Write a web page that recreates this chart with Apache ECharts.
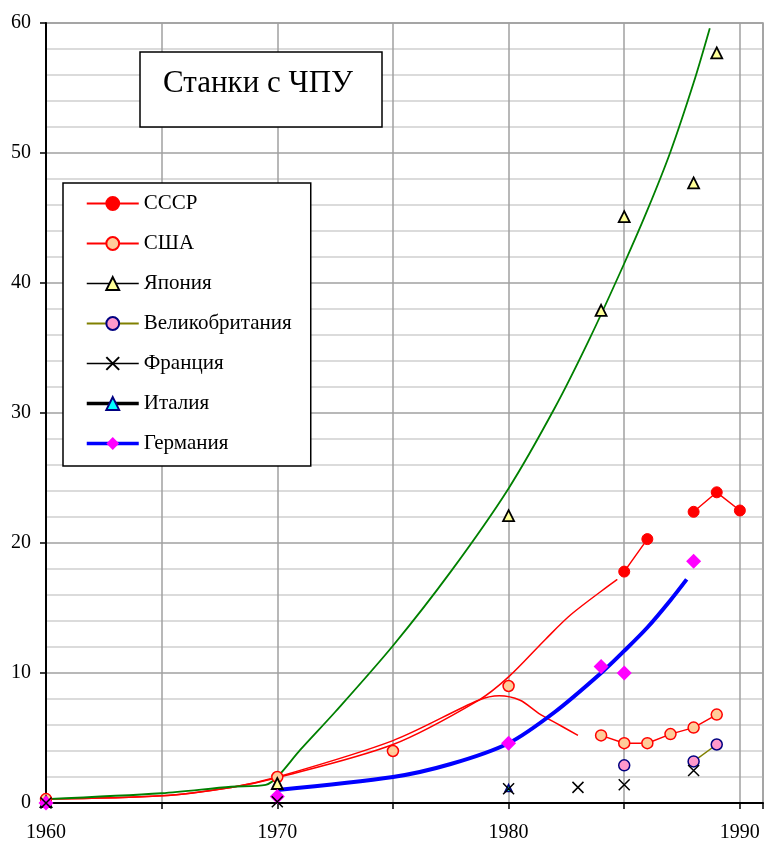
<!DOCTYPE html>
<html><head><meta charset="utf-8">
<script src="https://cdn.jsdelivr.net/npm/echarts@6/dist/echarts.min.js"></script>
<style>html,body{margin:0;padding:0;background:#fff}#c{width:766px;height:843px}</style>
</head><body><div id="c"></div>
<script>
const FONT = "'Liberation Serif','Times New Roman',serif";
const titleText = 'Станки с ЧПУ';
const legendNames = ['СССР','США','Япония','Великобритания','Франция','Италия','Германия'];

// observed points
const ussrX = [1985, 1986, 1987, 1988, 1989, 1990];
const ussrY = [17.8, 20.3, null, 22.4, 23.9, 22.5];
const usaX = [1960, 1965, 1970, 1972, 1975, 1977, 1980, 1982, 1984, 1985, 1986, 1987, 1988, 1989];
const usaY = [0.3, null, 2.0, null, 4.0, null, 9.0, null, 5.2, 4.6, 4.6, 5.3, 5.8, 6.8];
const japanX = [1960, 1970, 1980, 1984, 1985, 1988, 1989];
const japanY = [0.1, 1.5, 22.1, 37.9, 45.1, 47.7, 57.7];
const ukX = [1985, 1986, 1988, 1989];
const ukY = [2.9, null, 3.2, 4.5];
const franceX = [1960, 1970, 1980, 1983, 1985, 1988];
const franceY = [0, 0.1, 1.1, 1.2, 1.4, 2.5];
const italyX = [1980];
const italyY = [1.15];
const germanyX = [1960, 1970, 1980, 1984, 1985, 1988];
const germanyY = [0, 0.5, 4.6, 10.5, 10.0, 18.6];

// trend curves
const ussrTrendX = [1960, 1965, 1968, 1970, 1975, 1978.7, 1980, 1981.6, 1982.7, 1984.7];
const ussrTrendY = [0.3, 0.55, 1.2, 1.95, 4.5, 7.9, 9.7, 12.6, 14.5, 17.2];
const usaTrendX = [1960, 1965, 1968, 1970, 1975, 1978.7, 1979.6, 1980.5, 1981.3, 1982.2, 1983];
const usaTrendY = [0.3, 0.55, 1.2, 2.0, 4.8, 7.9, 8.25, 7.9, 6.9, 6.0, 5.2];
const japanTrendX = [1960, 1965, 1968, 1969.5, 1970, 1971, 1972.5, 1975, 1977.5, 1980, 1982, 1983.5, 1985, 1986, 1987, 1988, 1988.7];
const japanTrendY = [0.3, 0.75, 1.25, 1.4, 2.0, 4.1, 7.0, 12.1, 17.8, 24.2, 30.4, 35.7, 41.5, 45.6, 50.1, 55.4, 59.6];
const germanyTrendX = [1970, 1975, 1977.5, 1980, 1982, 1984, 1985, 1986, 1987, 1987.7];
const germanyTrendY = [1.0, 2.0, 3.0, 4.6, 7.0, 10.0, 11.7, 13.5, 15.6, 17.2];

const zip = (xs, ys) => xs.map((x, i) => [x, ys[i]]);

const X_SYMBOL = 'path://M0,0 L10,10 M10,0 L0,10';

function trend(name, xs, ys, color, width) {
  return { name: name, type: 'line', data: zip(xs, ys), showSymbol: false, symbol: 'none',
    smooth: 0.3, lineStyle: { color: color, width: width }, z: 2, silent: true, legendHoverLink: false };
}

const chart = echarts.init(document.getElementById('c'), null, { renderer: 'canvas' });
chart.setOption({
  animation: false,
  backgroundColor: '#fff',
  grid: { left: 46, right: 3, top: 23, bottom: 40, show: true, borderColor: '#999', borderWidth: 1.5 },
  xAxis: {
    type: 'value', min: 1960, max: 1991, interval: 5,
    axisLine: { show: true, onZero: false, lineStyle: { color: '#000', width: 2 } },
    axisTick: { show: true, length: 6, lineStyle: { color: '#000', width: 1.5 } },
    axisLabel: { color: '#000', fontFamily: FONT, fontSize: 20, margin: 20,
      formatter: v => (v % 10 === 0 ? String(v) : '') },
    splitLine: { show: true, lineStyle: { color: '#a0a0a0', width: 1.5 } }
  },
  yAxis: {
    type: 'value', min: 0, max: 60, interval: 10,
    axisLine: { show: true, lineStyle: { color: '#000', width: 2 } },
    axisTick: { show: true, length: 6, lineStyle: { color: '#000', width: 1.5 } },
    axisLabel: { color: '#000', fontFamily: FONT, fontSize: 20, margin: 15 },
    splitLine: { show: true, lineStyle: { color: '#a0a0a0', width: 1.5 } },
    minorTick: { show: false, splitNumber: 5 },
    minorSplitLine: { show: true, lineStyle: { color: '#cfcfcf', width: 1.5 } }
  },
  legend: {
    orient: 'vertical', left: 63, top: 183,
    padding: [10, 19, 12, 22],
    borderColor: '#000', borderWidth: 1.5, backgroundColor: '#fff',
    itemWidth: 52, itemHeight: 16, itemGap: 19,
    textStyle: { fontFamily: FONT, fontSize: 21, color: '#000', lineHeight: 21 },
    selectedMode: false,
    data: [
      { name: 'СССР' },
      { name: 'США' },
      { name: 'Япония', lineStyle: { color: '#000', width: 1.5, opacity: 1 } },
      { name: 'Великобритания' },
      { name: 'Франция', lineStyle: { color: '#000', width: 1.5, opacity: 1 } },
      { name: 'Италия', lineStyle: { color: '#000', width: 3.5, opacity: 1 } },
      { name: 'Германия', lineStyle: { color: '#0000ff', width: 3.5, opacity: 1 } }
    ]
  },
  graphic: [
    { type: 'rect', shape: { x: 140, y: 52, width: 242, height: 75 },
      style: { fill: '#fff', stroke: '#000', lineWidth: 1.5 }, z: 100 },
    { type: 'text', x: 258, y: 84, z: 101,
      style: { text: titleText, font: '31px ' + FONT, fill: '#000', align: 'center', verticalAlign: 'middle' } }
  ],
  series: [
    trend('trendUSA', usaTrendX, usaTrendY, '#ff0000', 1.5),
    trend('trendUSSR', ussrTrendX, ussrTrendY, '#ff0000', 1.5),
    trend('trendJapan', japanTrendX, japanTrendY, '#008000', 1.8),
    trend('trendGermany', germanyTrendX, germanyTrendY, '#0000ff', 4),
    { name: 'Италия', type: 'line', data: zip(italyX, italyY), symbol: 'triangle', symbolSize: 7,
      itemStyle: { color: '#00ffff', borderColor: '#000080', borderWidth: 1.5 },
      lineStyle: { color: '#000', width: 3.5 }, z: 3 },
    { name: 'СССР', type: 'line', data: zip(ussrX, ussrY), symbol: 'circle', symbolSize: 11,
      itemStyle: { color: '#ff0000', borderColor: '#ff0000', borderWidth: 1 },
      lineStyle: { color: '#ff0000', width: 1.5 }, z: 4 },
    { name: 'США', type: 'line', data: zip(usaX, usaY), symbol: 'circle', symbolSize: 11,
      itemStyle: { color: '#ffcc99', borderColor: '#ff0000', borderWidth: 1.5 },
      lineStyle: { color: '#ff0000', width: 1.5 }, z: 4 },
    { name: 'Япония', type: 'line', data: zip(japanX, japanY), symbol: 'triangle', symbolSize: 11,
      itemStyle: { color: '#ffff99', borderColor: '#000', borderWidth: 1.8 },
      lineStyle: { color: '#000', width: 1.5, opacity: 0 }, z: 4 },
    { name: 'Великобритания', type: 'line', data: zip(ukX, ukY), symbol: 'circle', symbolSize: 11,
      itemStyle: { color: '#ff99cc', borderColor: '#000080', borderWidth: 1.5 },
      lineStyle: { color: '#808000', width: 1.5 }, z: 4 },
    { name: 'Германия', type: 'line', data: zip(germanyX, germanyY), symbol: 'diamond', symbolSize: 15,
      itemStyle: { color: '#ff00ff', borderColor: '#ff00ff', borderWidth: 0 },
      lineStyle: { color: '#0000ff', width: 3.5, opacity: 0 }, z: 4 },
    { name: 'Франция', type: 'line', data: zip(franceX, franceY), symbol: X_SYMBOL, symbolSize: 11,
      itemStyle: { color: '#000', borderColor: '#000', borderWidth: 1.5 },
      lineStyle: { color: '#000', width: 1.5, opacity: 0 }, z: 5 }
  ]
});
</script>
</body></html>
